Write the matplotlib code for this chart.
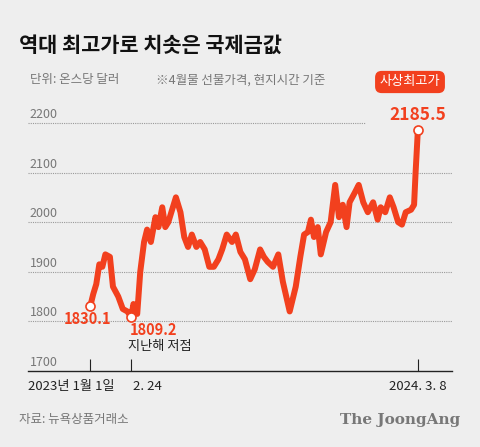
import matplotlib
matplotlib.use("Agg")
import matplotlib.pyplot as plt
import matplotlib.transforms as mtrans

plt.rcParams['font.family'] = ['Noto Sans CJK KR', 'DejaVu Sans']

days = [0,4,8,12,16,20,26,30,37,43,49,54,57,62,66,71,75,80,86,90,95,99,103,108,113,119,124,129,134,140,145,151,157,163,169,174,180,187,192,198,204,211,217,224,229,234,241,248,254,263,271,277,282,287,291,295,300,304,311,317,323,328,333,338,342,349,354,360,366,373,379,383,389,395,400,406,411,416,423,427,429,432]
prices = [1830.1,1855,1875,1915,1910,1935,1930,1870,1850,1825,1820,1809.2,1835,1815,1900,1960,1985,1960,2010,1990,2030,1990,2000,2025,2050,2020,1970,1950,1975,1950,1960,1945,1910,1910,1925,1945,1975,1960,1975,1940,1925,1885,1905,1945,1930,1920,1910,1935,1880,1820,1870,1930,1975,1980,2005,1970,1990,1935,1980,2000,2075,2010,2035,1990,2040,2060,2075,2040,2020,2040,2005,2030,2020,2050,2030,2000,1995,2020,2025,2035,2100,2185.5]
yticks = [1700,1800,1900,2000,2100,2200]
xtick_days = [0,54,432]
xtick_labels = ["2023년 1월 1일", "2. 24", "2024. 3. 8"]

RED = "#f2401e"
BG = "#eeeeee"
fig = plt.figure(figsize=(4.8,4.47), dpi=100, facecolor=BG)
ax = fig.add_axes([28/480, 1-371/447, 424/480, 261/447], facecolor=BG)
ax.set_xlim(-82, 477)
ax.set_ylim(1700, 2226)
for s in ax.spines.values(): s.set_visible(False)
ax.spines['bottom'].set_visible(True); ax.spines['bottom'].set_color('#222222'); ax.spines['bottom'].set_linewidth(1)
for y in yticks[1:]:
    xe = 365 if y == 2200 else 452
    ax.plot([-82, (xe-90)*1.317], [y, y], ls=(0,(1,1)), color='#999999', lw=0.8, zorder=1)
    ax.text(-80, y+4, str(y), fontsize=9, color='#777777', va='bottom', ha='left')
ax.text(-80, 1704, "1700", fontsize=9, color='#777777', va='bottom', ha='left')
ax.set_yticks([])
ax.set_xticks(xtick_days)
ax.set_xticklabels([])
ax.tick_params(axis='x', length=9, width=0.8, color='#222222', direction='in')
tr = mtrans.blended_transform_factory(ax.transData, ax.transAxes)
ax.text(-82, -0.035, xtick_labels[0], transform=tr, fontsize=9.5, color='#222222', ha='left', va='top')
ax.text(xtick_days[1]+2, -0.035, xtick_labels[1], transform=tr, fontsize=9.5, color='#222222', ha='left', va='top')
ax.text(xtick_days[2], -0.035, xtick_labels[2], transform=tr, fontsize=9.5, color='#222222', ha='center', va='top')
ax.plot(days, prices, color=RED, lw=4.3, solid_joinstyle='round', solid_capstyle='round', zorder=3)
for d, p in [(days[0], prices[0]), (days[11], prices[11]), (days[-1], prices[-1])]:
    ax.plot(d, p, 'o', ms=6.5, mfc='white', mec=RED, mew=1.2, zorder=4)
ax.text(days[0]-4, 1820, "1830.1", color=RED, fontsize=10.5, fontweight='bold', ha='center', va='top')
ax.text(days[11]-2, 1798, "1809.2", color=RED, fontsize=10.5, fontweight='bold', ha='left', va='top')
ax.text(days[11]-4, 1762, "지난해 저점", color='#222222', fontsize=9.5, ha='left', va='top')
ax.text(days[-1], 2198, "2185.5", color=RED, fontsize=12.5, fontweight='bold', ha='center', va='bottom')
fig.text(19/480, 1-45/447, "역대 최고가로 치솟은 국제금값", fontsize=15, fontweight='bold', color='#111111', va='center')
fig.text(30/480, 1-80/447, "단위: 온스당 달러", fontsize=9, color='#777777', va='center')
fig.text(156/480, 1-80/447, "※4월물 선물가격, 현지시간 기준", fontsize=9, color='#777777', va='center')
fig.text(410/480, 1-82/447, "사상최고가", fontsize=9.5, color='white', ha='center', va='center',
         bbox=dict(boxstyle='round,pad=0.35,rounding_size=0.5', fc=RED, ec='none'))
fig.text(19/480, 1-420/447, "자료: 뉴욕상품거래소", fontsize=9, color='#777777', va='center')
fig.text(460/480, 1-420/447, "The JoongAng", fontsize=11, color='#777777', ha='right', va='center', family=['DejaVu Serif'], fontweight='bold')
fig.savefig("out.png", dpi=100, facecolor=BG)
